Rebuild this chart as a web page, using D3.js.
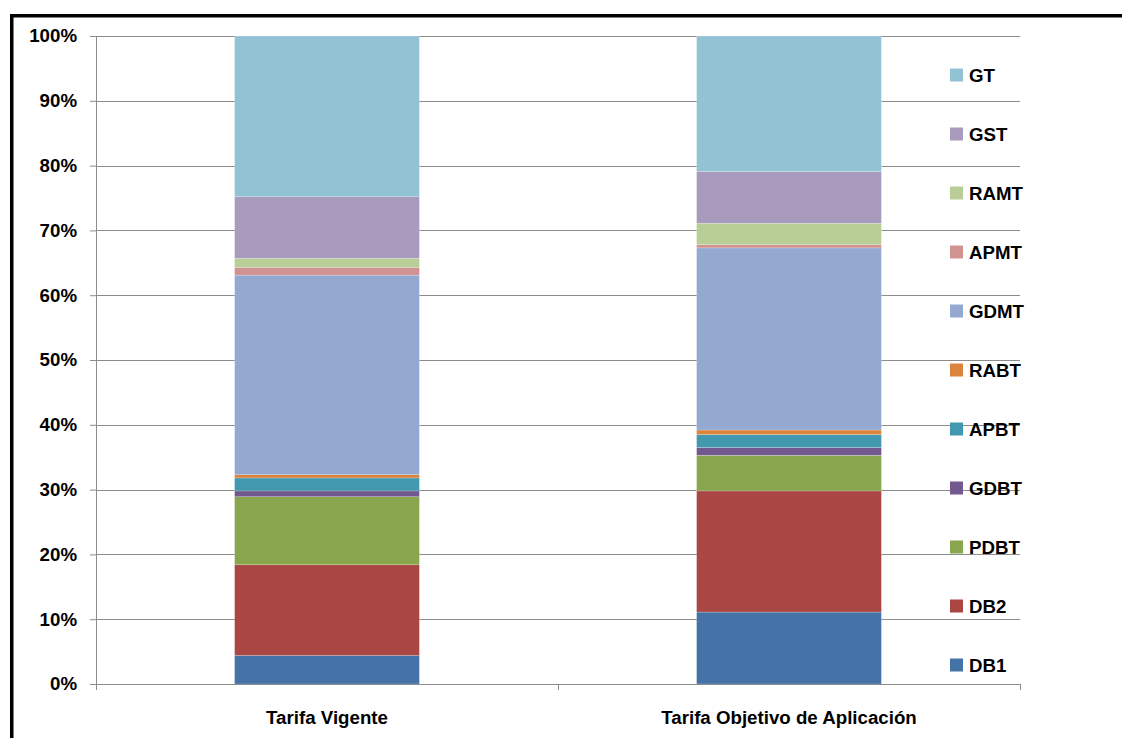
<!DOCTYPE html>
<html>
<head>
<meta charset="utf-8">
<script src="https://cdn.jsdelivr.net/npm/d3@7"></script>
<style>
  html, body { margin: 0; padding: 0; background: #fff; }
  svg { display: block; }
  text { font-family: "Liberation Sans", Arial, sans-serif; font-weight: bold; fill: #000; }
</style>
</head>
<body>
<svg id="chart" width="1122" height="738"></svg>
<script>
// Tariff categories (x axis)
const categories = ["Tarifa Vigente", "Tarifa Objetivo de Aplicación"];

// Stack order, bottom to top
const seriesNames = ["DB1", "DB2", "PDBT", "GDBT", "APBT", "RABT", "GDMT", "APMT", "RAMT", "GST", "GT"];

// Share of each series (%) per category
const vigente  = [4.4, 14.0, 10.5, 0.9, 2.0, 0.5, 30.8, 1.2, 1.4, 9.5, 24.8];
const objetivo = [11.1, 18.7, 5.5, 1.2, 2.0, 0.7, 28.1, 0.5, 3.3, 8.0, 20.9];

// Y axis tick labels
const yTicks = [0, 10, 20, 30, 40, 50, 60, 70, 80, 90, 100];

const colors = ["#4572A7", "#AA4643", "#89A54E", "#71588F", "#4198AF", "#DB843D",
                "#93A9CF", "#D19392", "#B9CD96", "#A99BBD", "#92C3D4"];

const fontSize = "18.7px";

const svg = d3.select("#chart");

// Outer chart frame
svg.append("rect")
  .attr("x", 11.75).attr("y", 15.75)
  .attr("width", 1300).attr("height", 900)
  .attr("fill", "none").attr("stroke", "#000").attr("stroke-width", 3.5);

const plot = { left: 96, right: 1020, top: 36, bottom: 684 };

const x = d3.scaleBand().domain(categories)
  .range([plot.left, plot.right]).paddingInner(0.6).paddingOuter(0.3);
const xOuter = d3.scaleBand().domain(categories).range([plot.left, plot.right]);
const y = d3.scaleLinear().domain([0, 100]).range([plot.bottom, plot.top]);

// Horizontal gridlines
svg.append("g").selectAll("line").data(yTicks.slice(1)).join("line")
  .attr("x1", plot.left).attr("x2", plot.right)
  .attr("y1", d => Math.round(y(d)) + 0.5).attr("y2", d => Math.round(y(d)) + 0.5)
  .attr("stroke", "#8c8c8c").attr("stroke-width", 1);

// Stacked data
const rows = categories.map((c, i) => {
  const vals = i === 0 ? vigente : objetivo;
  const r = { cat: c };
  seriesNames.forEach((s, j) => r[s] = vals[j]);
  return r;
});
const stacked = d3.stack().keys(seriesNames)(rows);

svg.append("g").selectAll("g").data(stacked).join("g")
  .attr("fill", (d, i) => colors[i])
  .selectAll("rect").data(d => d).join("rect")
  .attr("x", d => x(d.data.cat))
  .attr("width", x.bandwidth())
  .attr("y", d => y(d[1]))
  .attr("height", d => y(d[0]) - y(d[1]))
  .attr("stroke", "rgba(255,255,255,0.35)").attr("stroke-width", 0.6);

// Y axis
const yAxis = svg.append("g").attr("transform", `translate(${plot.left},0)`)
  .call(d3.axisLeft(y).tickValues(yTicks).tickSize(6).tickPadding(13).tickFormat(d => d + "%"));
yAxis.select(".domain").attr("stroke", "#8c8c8c").attr("d", `M0.5,${plot.top}V${plot.bottom + 6}`);
yAxis.selectAll(".tick line").attr("stroke", "#8c8c8c");
yAxis.selectAll(".tick text")
  .style("font-family", "'Liberation Sans', Arial, sans-serif")
  .style("font-weight", "bold").style("font-size", fontSize).attr("fill", "#000");

// X axis
const xAxisG = svg.append("g").attr("transform", `translate(0,${plot.bottom})`);
xAxisG.append("line").attr("x1", plot.left).attr("x2", plot.right)
  .attr("y1", 0.5).attr("y2", 0.5).attr("stroke", "#8c8c8c");
xAxisG.selectAll("line.tk").data(categories).join("line").attr("class", "tk")
  .attr("x1", d => Math.round(xOuter(d) + xOuter.bandwidth()) + 0.5)
  .attr("x2", d => Math.round(xOuter(d) + xOuter.bandwidth()) + 0.5)
  .attr("y1", 0).attr("y2", 6).attr("stroke", "#8c8c8c");
xAxisG.selectAll("text").data(categories).join("text")
  .attr("x", d => x(d) + x.bandwidth() / 2)
  .attr("y", 40)
  .attr("text-anchor", "middle")
  .style("font-size", fontSize)
  .text(d => d);

// Legend, top to bottom in reverse stack order
const legendNames = seriesNames.slice().reverse();
const legend = svg.append("g").selectAll("g").data(legendNames).join("g")
  .attr("transform", (d, i) => `translate(950,${75 + i * 59})`);
legend.append("rect").attr("x", 0).attr("y", -6.5).attr("width", 13).attr("height", 13)
  .attr("fill", d => colors[seriesNames.indexOf(d)]);
legend.append("text").attr("x", 19).attr("y", 0).attr("dy", "0.36em")
  .style("font-size", fontSize).text(d => d);
</script>
</body>
</html>
